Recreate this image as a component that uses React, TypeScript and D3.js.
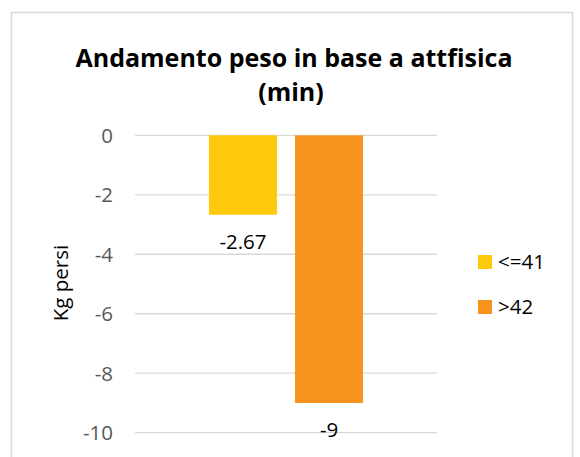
import React, { useEffect, useRef } from 'react'
import * as d3 from 'd3'

// chart data
const categories = ['min']
const seriesNames = ['<=41', '>42']
const seriesValues = [-2.67, -9]
const seriesLabels = ['-2.67', '-9']
const seriesColors = ['#FFC90B', '#F7931E']
const yTicks = [0, -2, -4, -6, -8, -10]

export default function App() {
    const ref = useRef<SVGSVGElement>(null)

    useEffect(() => {
        const font = "'Open Sans', 'Liberation Sans', sans-serif"

        const svg = d3.select(ref.current)
        svg.selectAll('*').remove()

        // chart area border
        svg.append('rect')
            .attr('x', 11.5).attr('y', 12.5)
            .attr('width', 561).attr('height', 480)
            .attr('fill', '#fff')
            .attr('stroke', '#d9d9d9')
            .attr('stroke-width', 1.5)

        // title
        const title = svg.append('text')
            .attr('text-anchor', 'middle')
            .attr('font-family', font)
            .attr('font-weight', 'bold')
            .attr('font-size', 25)
            .attr('fill', '#000')
        title.append('tspan').attr('x', 294).attr('y', 67).text('Andamento peso in base a attfisica')
        title.append('tspan').attr('x', 291).attr('y', 101).text('(min)')

        // scales
        const y = d3.scaleLinear().domain([0, -10]).range([135.3, 432.7])
        const x0 = d3.scaleBand().domain(categories).range([135, 437]).paddingInner(0).paddingOuter(0.48)
        const x1 = d3.scaleBand().domain(seriesNames).range([0, x0.bandwidth()]).paddingInner(0.21).paddingOuter(0)

        // gridlines
        svg.append('g')
            .selectAll('line')
            .data(yTicks)
            .enter()
            .append('line')
            .attr('x1', 135).attr('x2', 437)
            .attr('y1', d => y(d)).attr('y2', d => y(d))
            .attr('stroke', '#d9d9d9')
            .attr('stroke-width', 1.3)

        // tick labels
        svg.append('g')
            .selectAll('text')
            .data(yTicks)
            .enter()
            .append('text')
            .attr('x', 113)
            .attr('y', d => y(d) + 7.5)
            .attr('text-anchor', 'end')
            .attr('font-family', font)
            .attr('font-size', 20.5)
            .attr('fill', '#595959')
            .text(d => String(d))

        // axis title
        svg.append('text')
            .attr('transform', 'translate(68,283) rotate(-90)')
            .attr('text-anchor', 'middle')
            .attr('font-family', font)
            .attr('font-size', 20.5)
            .attr('fill', '#000')
            .text('Kg persi')

        // bars
        const cx = x0(categories[0]) as number
        svg.append('g')
            .selectAll('rect')
            .data(seriesValues)
            .enter()
            .append('rect')
            .attr('x', (d, i) => cx + (x1(seriesNames[i]) as number))
            .attr('y', y(0))
            .attr('width', x1.bandwidth())
            .attr('height', d => y(d) - y(0))
            .attr('fill', (d, i) => seriesColors[i])

        // value labels
        svg.append('g')
            .selectAll('text')
            .data(seriesValues)
            .enter()
            .append('text')
            .attr('x', (d, i) => cx + (x1(seriesNames[i]) as number) + x1.bandwidth() / 2)
            .attr('y', d => y(d) + 34)
            .attr('text-anchor', 'middle')
            .attr('font-family', font)
            .attr('font-size', 20.5)
            .attr('fill', '#000')
            .text((d, i) => seriesLabels[i])

        // legend
        const legend = svg.append('g')
            .selectAll('g')
            .data(seriesNames)
            .enter()
            .append('g')
            .attr('transform', (d, i) => 'translate(478,' + (255 + i * 45) + ')')
        legend.append('rect')
            .attr('width', 14).attr('height', 14)
            .attr('fill', (d, i) => seriesColors[i])
        legend.append('text')
            .attr('x', 20).attr('y', 13.5)
            .attr('font-family', font)
            .attr('font-size', 20.5)
            .attr('fill', '#000')
            .text(d => d)
    }, [])

    return (
        <svg ref={ref} width={580} height={457}
            style={{ position: 'absolute', left: 0, top: 0, display: 'block', background: '#fff' }} />
    )
}
